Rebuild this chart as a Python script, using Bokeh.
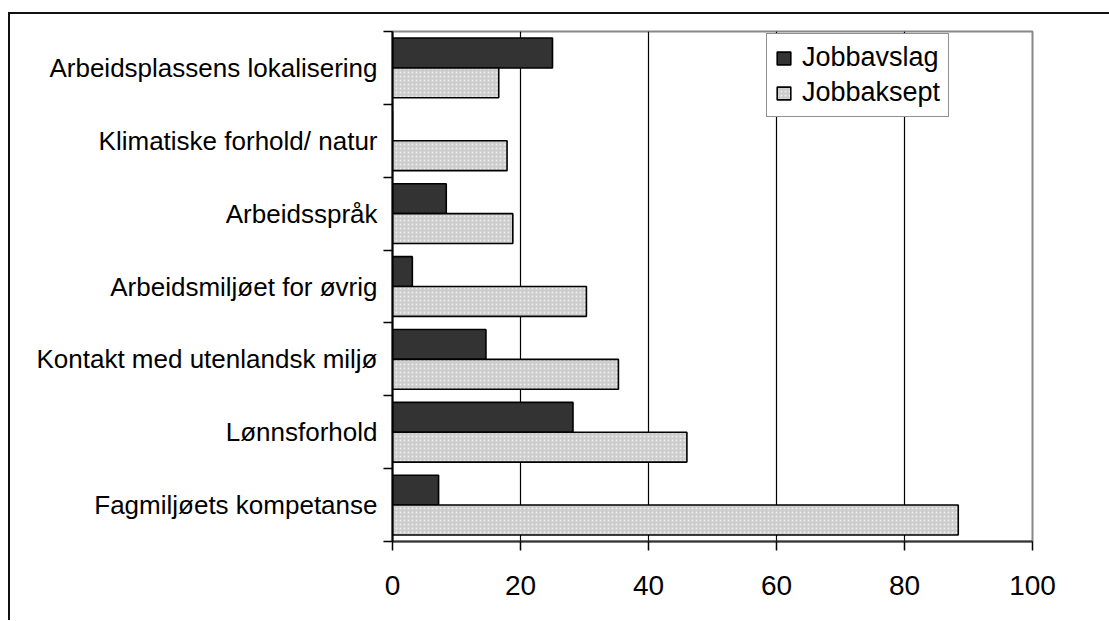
from bokeh.plotting import figure
from bokeh.models import FixedTicker, Range1d, Legend, LegendItem, ColumnDataSource
from bokeh.transform import dodge
from bokeh.embed import file_html
from bokeh.resources import INLINE

# Data (bottom to top as drawn)
categories = [
    "Fagmiljøets kompetanse",
    "Lønnsforhold",
    "Kontakt med utenlandsk miljø",
    "Arbeidsmiljøet for øvrig",
    "Arbeidsspråk",
    "Klimatiske forhold/ natur",
    "Arbeidsplassens lokalisering",
]
jobbavslag = [7.2, 28.2, 14.6, 3.1, 8.4, 0.0, 25.0]
jobbaksept = [88.4, 46.0, 35.3, 30.3, 18.8, 17.9, 16.6]
x_ticks = [0, 20, 40, 60, 80, 100]
grid_ticks = [20, 40, 60, 80]

centers = [i + 0.5 for i in range(len(categories))]
bounds = list(range(len(categories) + 1))

src = ColumnDataSource(dict(y=centers, cat=categories, avslag=jobbavslag, aksept=jobbaksept))

FONT = "Liberation Sans"

p = figure(width=1101, height=608, output_backend="svg", toolbar_location=None,
           x_range=Range1d(0, 100), y_range=Range1d(0, len(categories)),
           min_border_left=382, min_border_top=17, min_border_right=79, min_border_bottom=81,
           background_fill_color="white", border_fill_color="white")
p.margin = (12, 0, 0, 8)
p.styles = {"border-left": "2px solid #111", "border-top": "2px solid #111"}

r1 = p.hbar(y=dodge("y", 0.205), left=0, right="avslag", height=0.41, source=src,
            fill_color="#333333", line_color="black", line_width=1.6)
r2 = p.hbar(y=dodge("y", -0.205), left=0, right="aksept", height=0.41, source=src,
            fill_color="#cccccc", line_color="black", line_width=1.6,
            hatch_pattern="dot", hatch_color="#eeeeee", hatch_scale=4, hatch_weight=1.2)

# Axes
p.xaxis.ticker = FixedTicker(ticks=x_ticks, minor_ticks=[])
p.xaxis.major_tick_out = 9
p.xaxis.major_tick_in = 0
p.xaxis.major_tick_line_color = "black"
p.xaxis.major_tick_line_width = 1.5
p.xaxis.axis_line_color = "#333333"
p.xaxis.axis_line_width = 2
p.xaxis.major_label_text_font = FONT
p.xaxis.major_label_text_font_size = "28px"
p.xaxis.major_label_text_color = "black"
p.xaxis.major_label_standoff = 25

p.yaxis.ticker = FixedTicker(ticks=centers, minor_ticks=bounds)
p.yaxis.major_tick_out = 0
p.yaxis.major_tick_in = 0
p.yaxis.minor_tick_out = 9
p.yaxis.minor_tick_in = 0
p.yaxis.minor_tick_line_color = "black"
p.yaxis.minor_tick_line_width = 1.5
p.yaxis.axis_line_color = "black"
p.yaxis.axis_line_width = 2
p.yaxis.major_label_overrides = {c: n for c, n in zip(centers, categories)}
p.yaxis.major_label_text_font = FONT
p.yaxis.major_label_text_font_size = "26px"
p.yaxis.major_label_text_color = "black"
p.yaxis.major_label_standoff = 6

p.xgrid.ticker = FixedTicker(ticks=grid_ticks)
p.xgrid.grid_line_color = "black"
p.xgrid.grid_line_width = 1.2
p.ygrid.grid_line_color = None

p.outline_line_color = "#888888"
p.outline_line_width = 2

legend = Legend(items=[LegendItem(label="Jobbavslag", renderers=[r1]),
                       LegendItem(label="Jobbaksept", renderers=[r2])],
                location=(374, 424), orientation="vertical")
legend.label_text_font = FONT
legend.label_text_font_size = "27px"
legend.label_text_color = "black"
legend.glyph_width = 17
legend.glyph_height = 16
legend.label_standoff = 10
legend.spacing = 4
legend.padding = 8
legend.margin = 0
legend.border_line_color = "#222222"
legend.border_line_width = 1
legend.background_fill_color = "white"
legend.background_fill_alpha = 1
p.add_layout(legend)

open("out.html", "w").write(file_html(p, INLINE))
